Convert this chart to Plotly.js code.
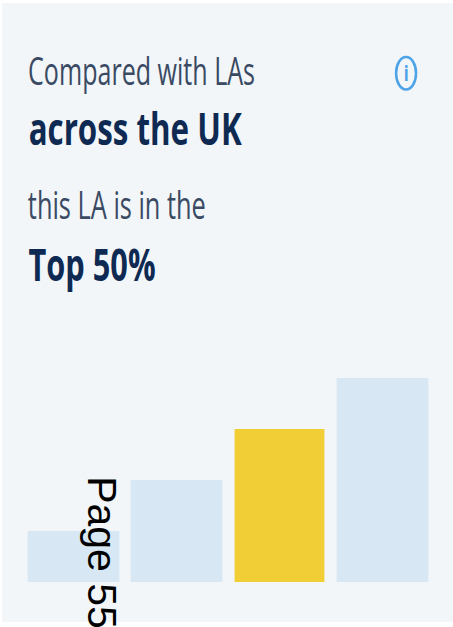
<!DOCTYPE html>
<html>
<head>
<meta charset="utf-8">
<script src="https://cdn.plot.ly/plotly-3.0.1.min.js"></script>
<style>
html,body{margin:0;padding:0;background:#fff;width:453px;height:627px;overflow:hidden}
#panel{position:absolute;left:2px;top:3px;width:451px;height:619px;background:#f2f6f9}
#chart{position:absolute;left:0;top:0;width:453px;height:627px}
</style>
</head>
<body>
<div id="panel"></div>
<div id="chart"></div>
<script>
const categories = ["Bottom 25%", "Bottom 50%", "Top 50%", "Top 25%"];
const barValues = [1, 2, 3, 4];
const barColors = ["#d7e7f4", "#d7e7f4", "#f1cd36", "#d7e7f4"];
const barWidths = [0.89, 0.89, 0.872, 0.89];
const W = 453, H = 627;
const M = {l: 21.5, r: 18.5, t: 378, b: 45};
const pw = W - M.l - M.r, ph = H - M.t - M.b;
const px = v => (v - M.l) / pw;
const py = v => (H - M.b - v) / ph;

const texts = [
  {text: "Compared with LAs", x: 28, y: 69.5, size: 39, color: "#3a4a63", bold: false, width: 227},
  {text: "across the UK", x: 28, y: 127.5, size: 45, color: "#0f2a52", bold: true, width: 213},
  {text: "this LA is in the", x: 28, y: 203.5, size: 39, color: "#3a4a63", bold: false, width: 178},
  {text: "Top 50%", x: 28, y: 263, size: 45, color: "#0f2a52", bold: true, width: 127},
  {text: "i", x: 406.5, y: 73, size: 21, color: "#4da3e8", bold: true, width: 5, center: true}
];

const annotations = texts.map(t => ({
  text: t.bold ? "<b>" + t.text + "</b>" : t.text,
  xref: "paper", yref: "paper",
  x: px(t.center ? t.x : t.x + t.width / 2), y: py(t.y),
  xanchor: "center", yanchor: "middle",
  showarrow: false, borderpad: 0,
  font: {family: "'Open Sans', sans-serif", size: t.size, color: t.color}
}));
annotations.push({
  text: "Page 55", xref: "paper", yref: "paper",
  x: px(78), y: py(475), xanchor: "left", yanchor: "top",
  showarrow: false, textangle: 90, borderpad: 0,
  font: {family: "'Liberation Sans', Arial, sans-serif", size: 41, color: "#000"}
});

const data = [{
  type: "bar", x: categories, y: barValues,
  marker: {color: barColors, line: {width: 0}},
  width: barWidths, hoverinfo: "skip"
}];

const layout = {
  width: W, height: H,
  margin: {l: M.l, r: M.r, t: M.t, b: M.b, pad: 0},
  paper_bgcolor: "rgba(0,0,0,0)", plot_bgcolor: "rgba(0,0,0,0)",
  showlegend: false, hovermode: false,
  xaxis: {type: "category", visible: false, range: [-0.5, 3.5], fixedrange: true},
  yaxis: {visible: false, range: [0, 4], fixedrange: true},
  annotations: annotations,
  shapes: [{
    type: "circle", xref: "paper", yref: "paper",
    x0: px(396.5), x1: px(416.5), y0: py(57), y1: py(89.5),
    line: {color: "#4da3e8", width: 2.5}, fillcolor: "rgba(0,0,0,0)"
  }]
};

Plotly.newPlot("chart", data, layout, {displayModeBar: false, staticPlot: true}).then(gd => {
  gd.querySelectorAll(".annotation-text").forEach((el, i) => {
    if (texts[i]) {
      el.setAttribute("textLength", texts[i].width);
      el.setAttribute("lengthAdjust", "spacingAndGlyphs");
    }
  });
});
</script>
</body>
</html>
